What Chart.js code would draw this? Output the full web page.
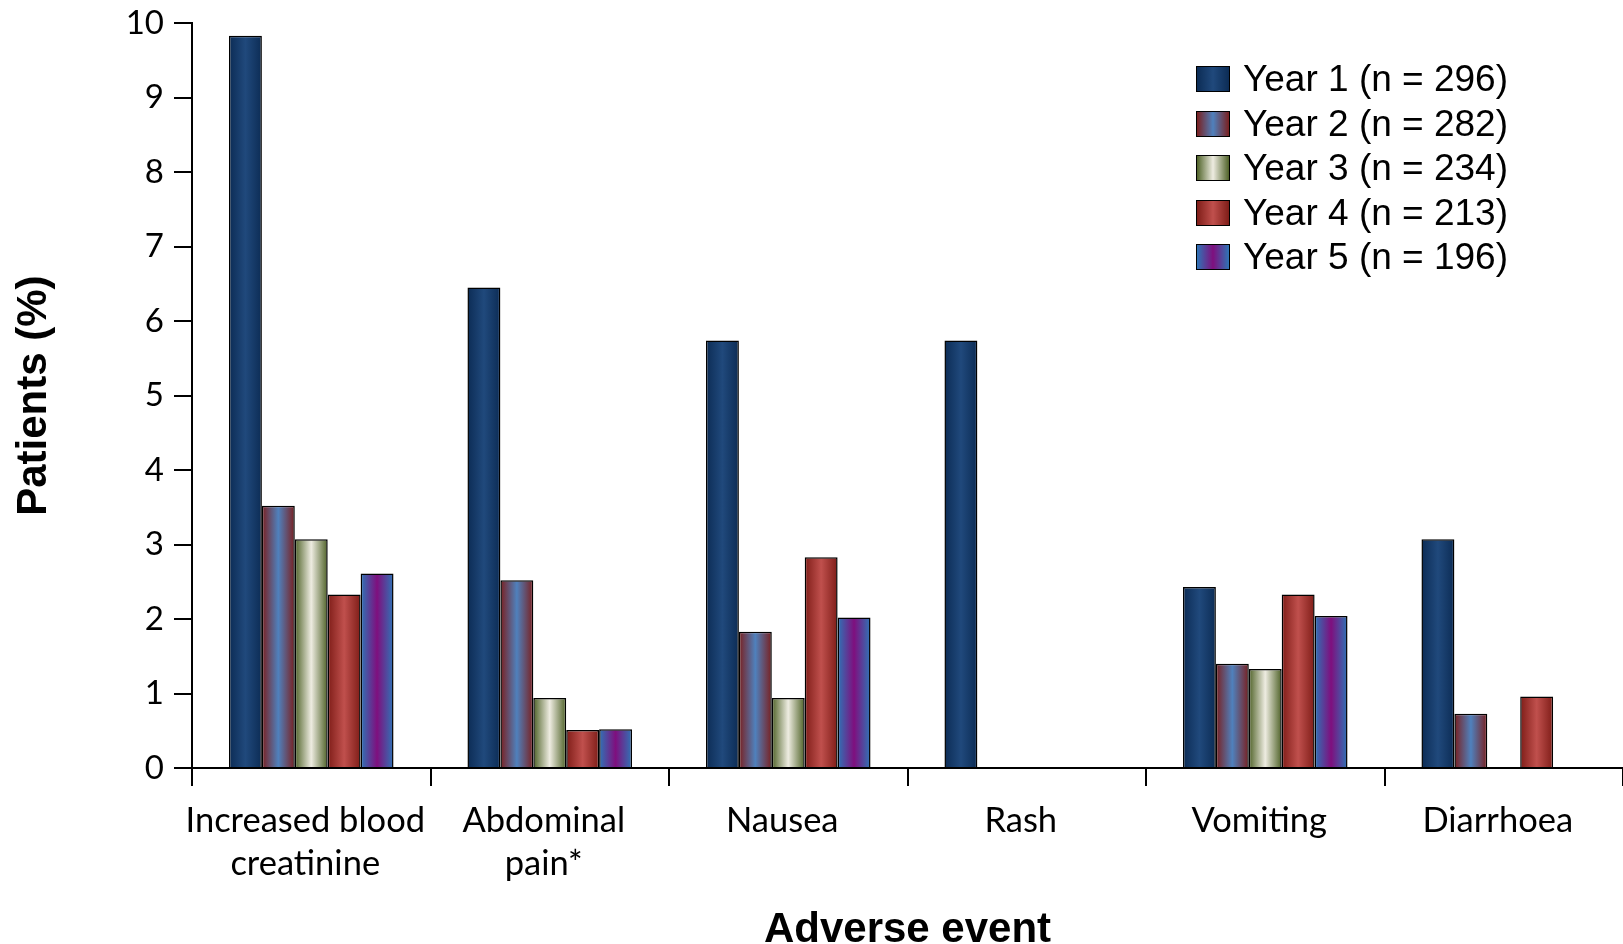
<!DOCTYPE html>
<html lang="en">
<head>
    <meta charset="UTF-8">
    <title>Adverse events by year</title>
    <script src="https://cdn.jsdelivr.net/npm/chart.js"></script>
    <style>
        body {
            margin: 0;
            background: #fff;
        }
        #wrap {
            position: relative;
            width: 1623px;
            height: 944px;
        }
        #legend {
            position: absolute;
            left: 1196px;
            top: 57px;
            font-family: "Liberation Sans", Arial, sans-serif;
            font-size: 37px;
            color: #000;
        }
        .item {
            display: flex;
            align-items: center;
            height: 44.5px;
        }
        .swatch {
            width: 32px;
            height: 24px;
            border: 1.5px solid #000;
            margin-right: 13px;
        }
    </style>
</head>
<body>
<div id="wrap">
    <canvas id="aeChart" width="1623" height="944"></canvas>
    <div id="legend"></div>
</div>

<script>
    const categories = [["Increased blood", "creatinine"], ["Abdominal", "pain*"], "Nausea", "Rash", "Vomiting", "Diarrhoea"];
    const seriesNames = ["Year 1 (n = 296)", "Year 2 (n = 282)", "Year 3 (n = 234)", "Year 4 (n = 213)", "Year 5 (n = 196)"];

    const year1 = [9.83, 6.45, 5.74, 5.74, 2.43, 3.07];
    const year2 = [3.52, 2.52, 1.83, 0, 1.40, 0.73];
    const year3 = [3.07, 0.94, 0.94, 0, 1.33, 0];
    const year4 = [2.33, 0.51, 2.83, 0, 2.33, 0.96];
    const year5 = [2.61, 0.52, 2.02, 0, 2.04, 0];

    const yTicks = [0, 1, 2, 3, 4, 5, 6, 7, 8, 9, 10];

    // edge colour / centre colour of each bar's shading
    const edgeColors = ["#0c2c55", "#7a1f1f", "#4f6228", "#7f1d18", "#2e75b6"];
    const midColors  = ["#20497c", "#4f81bd", "#eeece1", "#c0504d", "#7f0f7e"];

    const allSeries = [year1, year2, year3, year4, year5];

    // per-bar horizontal gradient, built from the element geometry chart.js computed
    const barShading = {
        id: 'barShading',
        beforeDatasetsDraw(chart) {
            const ctx = chart.ctx;
            chart.data.datasets.forEach((ds, i) => {
                chart.getDatasetMeta(i).data.forEach(bar => {
                    const l = bar.x - bar.width / 2;
                    const r = bar.x + bar.width / 2;
                    const g = ctx.createLinearGradient(l, 0, r, 0);
                    g.addColorStop(0, edgeColors[i]);
                    g.addColorStop(0.5, midColors[i]);
                    g.addColorStop(1, edgeColors[i]);
                    bar.options.backgroundColor = g;
                });
            });
        }
    };

    const tickFont = { family: "Lato, 'Open Sans', sans-serif", size: 34.5, lineHeight: 1.25 };

    new Chart(document.getElementById('aeChart'), {
        type: 'bar',
        data: {
            labels: categories,
            datasets: allSeries.map((vals, i) => ({
                label: seriesNames[i],
                data: vals,
                backgroundColor: () => midColors[i],
                borderColor: '#000',
                borderWidth: ctx => ctx.raw === 0 ? 0 : 1.5,
                borderSkipped: 'start'
            }))
        },
        options: {
            responsive: false,
            animation: false,
            layout: { padding: { left: 9, top: 0, right: 0, bottom: 0 } },
            datasets: {
                bar: { categoryPercentage: 0.69, barPercentage: 1 }
            },
            plugins: {
                legend: { display: false },
                tooltip: { enabled: false }
            },
            scales: {
                x: {
                    grid: { drawOnChartArea: false, offset: true, tickLength: 18, color: '#000', lineWidth: 2 },
                    border: { color: '#000', width: 2 },
                    ticks: { color: '#000', font: tickFont, padding: 13, labelOffset: -6, maxRotation: 0, autoSkip: false },
                    title: {
                        display: true,
                        text: 'Adverse event',
                        color: '#000',
                        font: { family: "'Liberation Sans', Arial, sans-serif", size: 42, weight: 'bold', lineHeight: 0.66 },
                        padding: { top: 0, bottom: 0 }
                    },
                    afterFit(scale) { scale.height = 176; }
                },
                y: {
                    min: 0,
                    max: 10,
                    afterBuildTicks(scale) { scale.ticks = yTicks.map(v => ({ value: v })); },
                    grid: { drawOnChartArea: false, tickLength: 18, color: '#000', lineWidth: 2 },
                    border: { color: '#000', width: 2 },
                    ticks: { color: '#000', font: { family: tickFont.family, size: 33, lineHeight: 0.8 }, padding: 10 },
                    title: {
                        display: true,
                        text: 'Patients (%)',
                        color: '#000',
                        font: { family: "'Liberation Sans', Arial, sans-serif", size: 42, weight: 'bold', lineHeight: 1.2 },
                        padding: 0
                    },
                    afterFit(scale) { scale.width = 183; }
                }
            }
        },
        plugins: [barShading]
    });

    // legend as html, swatches use the same shading colours
    const legendEl = document.getElementById('legend');
    seriesNames.forEach((name, i) => {
        const row = document.createElement('div');
        row.className = 'item';
        const sw = document.createElement('span');
        sw.className = 'swatch';
        sw.style.background = `linear-gradient(to right, ${edgeColors[i]}, ${midColors[i]}, ${edgeColors[i]})`;
        const txt = document.createElement('span');
        txt.textContent = name;
        row.appendChild(sw);
        row.appendChild(txt);
        legendEl.appendChild(row);
    });
</script>
</body>
</html>
